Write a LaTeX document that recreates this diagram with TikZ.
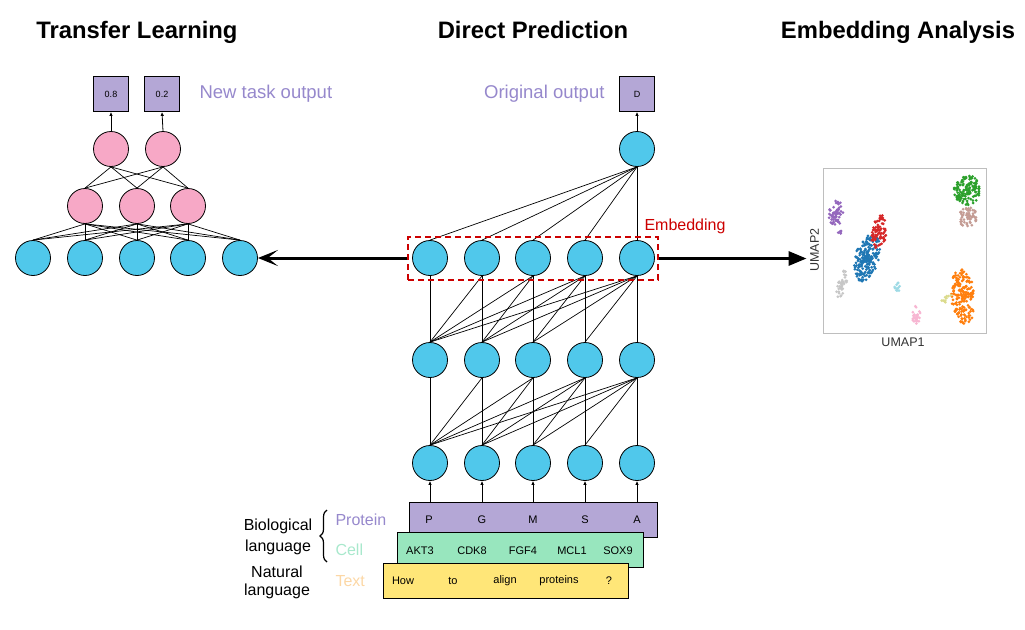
\documentclass[tikz,border=0pt]{standalone}
\usepackage{fontspec}
\setmainfont{Liberation Sans}
\usetikzlibrary{arrows.meta,decorations.pathreplacing}
\definecolor{nblue}{RGB}{80,200,235}
\definecolor{npink}{RGB}{247,168,198}
\definecolor{bpurple}{RGB}{180,167,214}
\definecolor{bgreen}{RGB}{152,230,190}
\definecolor{byellow}{RGB}{255,230,120}
\definecolor{tpurple}{RGB}{150,136,204}
\definecolor{tgreen}{RGB}{168,232,204}
\definecolor{torange}{RGB}{252,215,165}
\definecolor{ered}{RGB}{204,0,0}
\definecolor{ugray}{RGB}{190,190,190}
\definecolor{utext}{RGB}{50,50,50}
\definecolor{cpurple}{RGB}{148,103,189}
\definecolor{cgray}{RGB}{199,199,199}
\definecolor{cred}{RGB}{214,39,40}
\definecolor{cblue}{RGB}{31,119,180}
\definecolor{ccyan}{RGB}{158,218,229}
\definecolor{cpink}{RGB}{247,182,210}
\definecolor{cgreen}{RGB}{44,160,44}
\definecolor{cbrown}{RGB}{196,156,148}
\definecolor{corange}{RGB}{255,127,14}
\definecolor{colive}{RGB}{219,219,141}
\newcommand\clusterdots[7]{%
  \foreach \k in {1,...,#7}{%
    \pgfmathsetmacro\ur{rnd^0.65}%
    \pgfmathsetmacro\ut{360*rnd}%
    \pgfmathsetmacro\ua{\ur*cos(\ut)}%
    \pgfmathsetmacro\ub{\ur*sin(\ut)}%
    \pgfmathsetmacro\px{#2+#4*\ua*cos(#6)-#5*\ub*sin(#6)}%
    \pgfmathsetmacro\py{#3+#4*\ua*sin(#6)+#5*\ub*cos(#6)}%
    \fill[#1] (\px,\py) circle (1.5pt);
  }}
\begin{document}
\begin{tikzpicture}[x=1pt,y=-1pt,
  neuron/.style={circle, draw=black, line width=0.8pt, fill=nblue, minimum size=35pt, inner sep=0pt},
  pneuron/.style={neuron, fill=npink},
  outbox/.style={draw=black, line width=0.8pt, fill=bpurple, minimum size=35pt, inner sep=0pt, font=\fontsize{9}{10}\selectfont},
  conn/.style={line width=0.7pt, black},
  smallarrow/.style={line width=0.8pt, -{Latex[length=4pt,width=3.5pt]}},
  title/.style={font=\fontsize{23.8}{27}\selectfont\bfseries, anchor=base},
  lab/.style={font=\fontsize{18.5}{22}\selectfont},
  side/.style={font=\fontsize{16}{19}\selectfont},
  intok/.style={font=\fontsize{11}{13}\selectfont},
  inbox/.style={draw=black, line width=0.8pt, minimum height=35pt, inner sep=0pt},
  bigarrow/.style={line width=3pt}
]
\useasboundingbox (0,0) rectangle (1025,629);

% titles
\node[title] (t1) at (137,38.5) {Transfer Learning};
\node[title] (t2) at (533,38.5) {Direct Prediction};
\node[title] (t3) at (898,38.5) {Embedding Analysis};

% ---------- center network ----------
\foreach \i/\x in {1/430,2/482,3/533,4/585,5/637}{
  \node[neuron] (b\i) at (\x,463) {};
  \node[neuron] (m\i) at (\x,360) {};
  \node[neuron] (e\i) at (\x,258) {};
}
\node[neuron] (top) at (637,149) {};
\node[outbox] (od) at (637,94) {D};
\node[lab, text=tpurple, anchor=east] (ol) at (608,94) {Original output};

\foreach \i in {1,...,5}{
  \foreach \j in {\i,...,5}{
    \draw[conn] (b\i.north) -- (m\j.south);
    \draw[conn] (m\i.north) -- (e\j.south);
  }
  \draw[conn] (e\i.north) -- (top.south);
}
\draw[smallarrow] (top.north) -- (od.south);

% embedding box
\node[draw=ered, dashed, dash pattern=on 6pt off 4pt, line width=1.5pt, minimum width=250pt, minimum height=43pt, inner sep=0pt] (emb) at (533,258.5) {};
\node[side, text=ered, anchor=west] (embl) at (641,226) {Embedding};

% ---------- input boxes ----------
\node[inbox, fill=bpurple, minimum width=248pt] (prot) at (533,519.5) {};
\node[inbox, fill=bgreen, minimum width=246pt] (cell) at (520,549.5) {};
\node[inbox, fill=byellow, minimum width=245pt] (txt) at (505.5,580.5) {};
\foreach \i in {1,...,5}{
  \draw[smallarrow] (prot.north -| b\i) -- (b\i.south);
}
\foreach \n/\x/\s in {p1/429/P,p2/482/G,p3/533/M,p4/585/S,p5/637/A}{
  \node[intok] (\n) at (\x,520) {\s};
}
\foreach \n/\x/\s in {c1/420/AKT3,c2/472/CDK8,c3/523/FGF4,c4/572/MCL1,c5/618/SOX9}{
  \node[intok] (\n) at (\x,551) {\s};
}
\foreach \n/\x/\s in {w1/403/How,w2/453/to,w3/505/align,w4/559/proteins,w5/609/?}{
  \node[intok] (\n) at (\x,581) {\s};
}
\node[side] (bl1) at (278,526) {Biological};
\node[side] (bl2) at (278,547) {language};
\node[side] (nl1) at (277,572) {Natural};
\node[side] (nl2) at (277,591) {language};
\coordinate (brb) at (327,562);
\coordinate (brt) at (327,510);
\draw[line width=1.2pt, decorate, decoration={brace, amplitude=7pt}] (brb) -- (brt);
\node[side, text=tpurple, anchor=west] (lp) at (332,520) {Protein};
\node[side, text=tgreen, anchor=west] (lc) at (332,550) {Cell};
\node[side, text=torange, anchor=west] (lt) at (332,581) {Text};

% ---------- left network ----------
\foreach \i/\x in {1/33,2/85,3/137,4/188,5/240}{
  \node[neuron] (l\i) at (\x,258) {};
}
\foreach \i/\x in {1/85,2/137,3/188}{
  \node[pneuron] (h\i) at (\x,206) {};
}
\node[pneuron] (g1) at (111,149) {};
\node[pneuron] (g2) at (163,149) {};
\node[outbox] (o1) at (111,94) {0.8};
\node[outbox] (o2) at (162,94) {0.2};
\node[lab, text=tpurple, anchor=west] (nl) at (196,94) {New task output};
\foreach \i in {1,...,5}{
  \foreach \j in {1,2,3}{
    \draw[conn] (l\i.north) -- (h\j.south);
  }
}
\foreach \j in {1,2,3}{
  \draw[conn] (h\j.north) -- (g1.south);
  \draw[conn] (h\j.north) -- (g2.south);
}
\draw[smallarrow] (g1.north) -- (o1.south);
\draw[smallarrow] (g2.north) -- (o2.south);

% ---------- UMAP ----------
\node[draw=ugray, line width=1pt, minimum width=163pt, minimum height=165pt, inner sep=0pt] (umap) at (904.5,250.5) {};
\node[font=\fontsize{12.5}{14}\selectfont, text=utext] (u1) at (903,342) {UMAP1};
\node[font=\fontsize{12.5}{14}\selectfont, text=utext, rotate=90] (u2) at (814.5,250) {UMAP2};
\pgfmathsetseed{42}
\begin{scope}
\clip (umap.south west) rectangle (umap.north east);
\clusterdots{cpurple}{836}{213}{7}{14}{5}{60}
\clusterdots{cpurple}{840}{232}{3}{2}{0}{6}
\clusterdots{cgray}{842}{284}{4}{15}{15}{40}
\clusterdots{cblue}{867}{258}{12}{24}{15}{210}
\clusterdots{cred}{879}{232}{8}{17}{10}{80}
\clusterdots{ccyan}{897}{287}{3}{5}{0}{12}
\clusterdots{cpink}{917}{315}{5}{10}{0}{30}
\clusterdots{cgreen}{967}{190}{13}{15}{0}{140}
\clusterdots{cbrown}{968}{217}{10}{10}{0}{60}
\clusterdots{corange}{963}{297}{12}{28}{-5}{190}
\clusterdots{colive}{947}{299}{6}{3}{-30}{12}
\end{scope}

% ---------- big arrows ----------
\draw[bigarrow, -{Stealth[length=20pt,width=16pt,inset=10pt]}] (emb.west |- l5.east) -- (l5.east);
\draw[bigarrow, -{Triangle[length=18pt,width=14pt]}] (emb.east) -- (emb.east -| u2.north);
\end{tikzpicture}
\end{document}
